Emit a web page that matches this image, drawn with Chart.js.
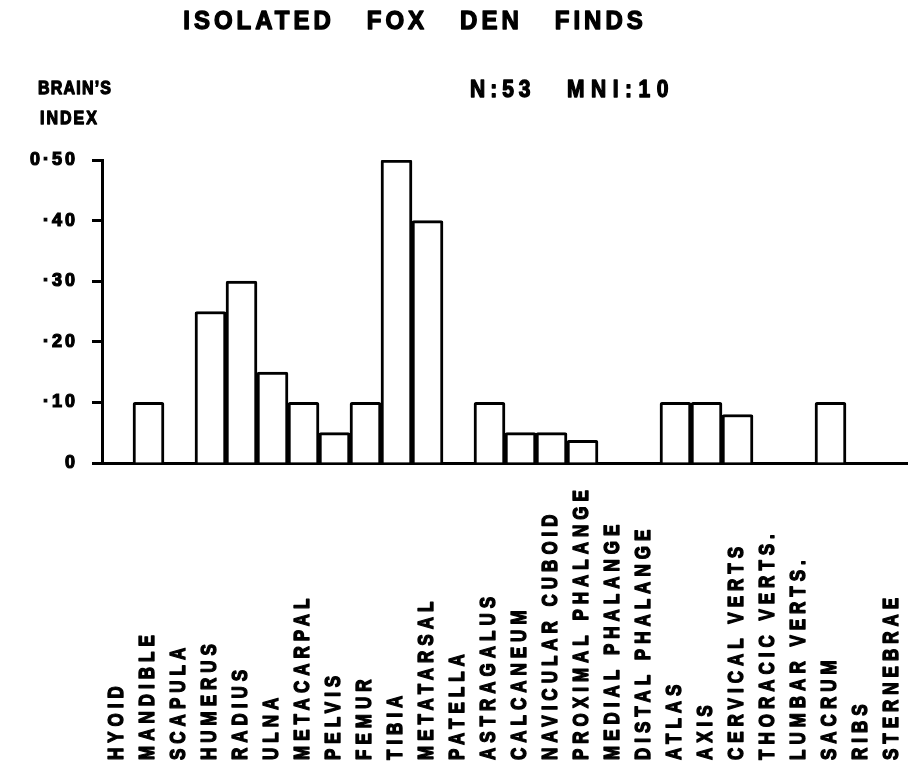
<!DOCTYPE html>
<html>
<head>
<meta charset="utf-8">
<title>Isolated Fox Den Finds</title>
<script src="https://cdn.jsdelivr.net/npm/chart.js@4"></script>
<style>
  html, body { margin: 0; padding: 0; background: #fff; }
  #wrap { width: 908px; height: 768px; position: relative; }
</style>
</head>
<body>
<div id="wrap"><canvas id="chart" width="908" height="768"></canvas></div>
<script>
// Skeletal elements along the x axis
const elements = [
  'HYOID', 'MANDIBLE', 'SCAPULA', 'HUMERUS', 'RADIUS', 'ULNA', 'METACARPAL',
  'PELVIS', 'FEMUR', 'TIBIA', 'METATARSAL', 'PATELLA', 'ASTRAGALUS', 'CALCANEUM',
  'NAVICULAR CUBOID', 'PROXIMAL PHALANGE', 'MEDIAL PHALANGE', 'DISTAL PHALANGE',
  'ATLAS', 'AXIS', 'CERVICAL VERTS', 'THORACIC VERTS.', 'LUMBAR VERTS.',
  'SACRUM', 'RIBS', 'STERNEBRAE'
];

// Brain's index for each element
const brainsIndex = [
  0, 0.10, 0, 0.25, 0.30, 0.15, 0.10,
  0.05, 0.10, 0.50, 0.40, 0, 0.10, 0.05,
  0.05, 0.0375, 0, 0,
  0.10, 0.10, 0.08, 0, 0,
  0.10, 0, 0
];

// Y axis tick labels, from 0 up to 0.50
const yTickValues = [0, 0.10, 0.20, 0.30, 0.40, 0.50];
const yTickLabels = ['0', '·10', '·20', '·30', '·40', '0·50'];

const titleText = 'ISOLATED   FOX   DEN   FINDS';
const axisTitle = ['BRAIN\u2019S', 'INDEX'];
const sampleN = 'N:53';
const sampleMNI = 'MNI:10';

const FONT = '"Liberation Sans", Arial, sans-serif';

// Heavy lettering: filled and outlined so the strokes read thick
function heavyText(ctx, text, weight) {
  ctx.fillStyle = '#000';
  ctx.strokeStyle = '#000';
  ctx.lineWidth = weight;
  ctx.lineJoin = 'round';
  ctx.fillText(text, 0, 0);
  ctx.strokeText(text, 0, 0);
}

// Draws bold text with letter spacing and an optional vertical stretch
function drawText(ctx, text, x, y, size, spacing, stretch, align, weight) {
  ctx.save();
  ctx.translate(x, y);
  ctx.scale(1, stretch);
  ctx.font = 'bold ' + size + 'px ' + FONT;
  ctx.letterSpacing = spacing + 'px';
  ctx.textAlign = align || 'left';
  ctx.textBaseline = 'alphabetic';
  heavyText(ctx, text, weight == null ? 1.1 : weight);
  ctx.restore();
}

const lettering = {
  id: 'lettering',
  beforeDraw(chart) {
    const ctx = chart.ctx;
    ctx.save();
    ctx.fillStyle = '#fff';
    ctx.fillRect(0, 0, chart.width, chart.height);
    ctx.restore();
    // spaced-out lettering for the axis tick labels
    ctx.letterSpacing = '3px';
  },
  afterDraw(chart) {
    const ctx = chart.ctx;
    ctx.letterSpacing = '0px';

    // heading and annotations
    drawText(ctx, titleText, 415, 29, 24, 4, 1.05, 'center', 1.3);
    drawText(ctx, axisTitle[0], 38, 94, 16, 1.2, 1.15);
    drawText(ctx, axisTitle[1], 40, 124, 16, 2, 1.15);
    drawText(ctx, sampleN, 470, 97, 21, 5, 1.12, 'left', 1.2);
    drawText(ctx, sampleMNI, 567, 97, 21, 6.5, 1.12, 'left', 1.2);

    // vertical category labels, reading upward from the bottom edge
    const xs = chart.scales.x;
    elements.forEach((name, i) => {
      const px = xs.getPixelForValue(i);
      ctx.save();
      ctx.translate(px, 760);
      ctx.rotate(-Math.PI / 2);
      ctx.scale(1, 1.25);
      ctx.font = 'bold 17px ' + FONT;
      ctx.letterSpacing = '5px';
      ctx.textAlign = 'left';
      ctx.textBaseline = 'middle';
      heavyText(ctx, name, 1.1);
      ctx.restore();
    });
  }
};

new Chart(document.getElementById('chart'), {
  type: 'bar',
  data: {
    labels: elements,
    datasets: [{
      data: brainsIndex,
      backgroundColor: '#fff',
      borderColor: '#000',
      borderWidth: 3,
      borderRadius: 2,
      barPercentage: 1,
      categoryPercentage: 1
    }]
  },
  options: {
    responsive: false,
    animation: false,
    devicePixelRatio: 1,
    layout: { padding: { top: 160, right: 0, bottom: 305, left: 0 } },
    plugins: {
      legend: { display: false },
      tooltip: { enabled: false },
      title: { display: false }
    },
    scales: {
      x: {
        grid: { display: false },
        border: { display: true, color: '#000', width: 3 },
        ticks: { display: false },
        afterFit(scale) { scale.height = 0; }
      },
      y: {
        min: 0,
        max: 0.5,
        afterBuildTicks(scale) {
          scale.ticks = yTickValues.map(v => ({ value: v }));
        },
        afterFit(scale) { scale.width = 102; },
        grid: {
          drawOnChartArea: false,
          drawTicks: true,
          tickLength: 10,
          tickWidth: 3,
          tickColor: '#000'
        },
        border: { display: true, color: '#000', width: 3 },
        ticks: {
          color: '#000',
          padding: 14,
          textStrokeColor: '#000',
          textStrokeWidth: 1.2,
          font: { family: FONT, size: 18, weight: 'bold' },
          callback(value) {
            const k = yTickValues.findIndex(v => Math.abs(v - value) < 1e-9);
            return k >= 0 ? yTickLabels[k] : '';
          }
        }
      }
    }
  },
  plugins: [lettering]
});
</script>
</body>
</html>
